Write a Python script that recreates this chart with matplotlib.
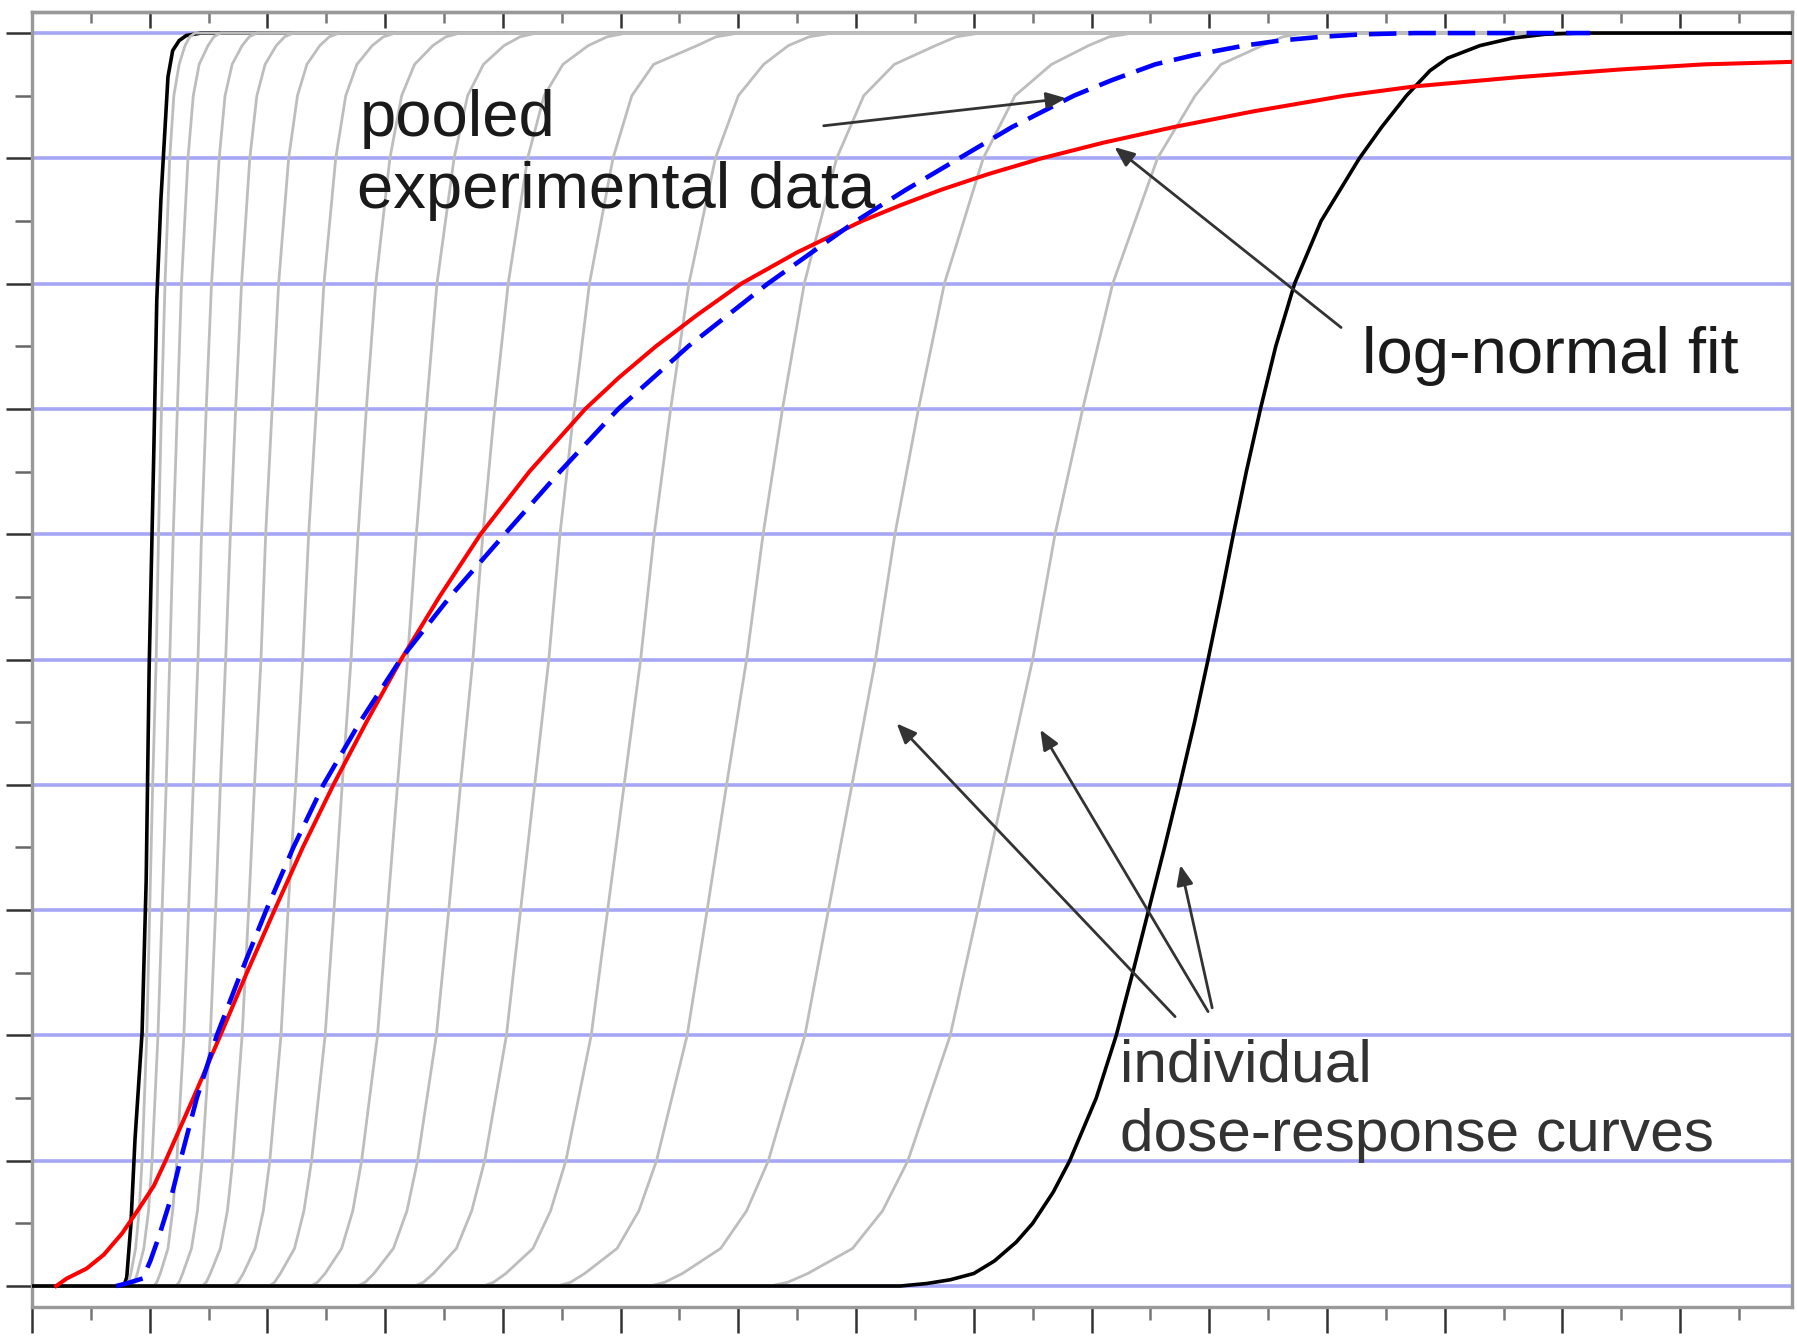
"""
Dose-response sketch: individual curves, pooled data and log-normal fit.
Output: out.png
"""

import matplotlib
matplotlib.use("Agg")
import matplotlib.pyplot as plt
from matplotlib.ticker import MultipleLocator

plt.rcParams["font.family"] = ["Liberation Sans", "DejaVu Sans"]

X_MAX = 29.9

# ── data ─────────────────────────────────────────────────────────────────────

# response levels at which each individual (gray) curve was read
LEVELS = [0, 0.003, 0.01, 0.03, 0.06, 0.1, 0.2, 0.3, 0.4, 0.5,
          0.6, 0.7, 0.8, 0.9, 0.95, 0.975, 0.99, 0.997, 1.0]

# dose of each gray curve at those levels
GRAY_DOSES = [
    [1.61, 1.64, 1.68, 1.76, 1.82, 1.87, 1.95, 2.00, 2.05, 2.11, 2.15, 2.20, 2.26, 2.34, 2.41, 2.50, 2.60, 2.68, 2.77],
    [1.70, 1.74, 1.79, 1.90, 1.98, 2.04, 2.14, 2.21, 2.28, 2.34, 2.40, 2.47, 2.54, 2.65, 2.74, 2.84, 2.99, 3.09, 3.20],
    [2.07, 2.12, 2.18, 2.31, 2.39, 2.46, 2.58, 2.66, 2.74, 2.82, 2.88, 2.96, 3.05, 3.18, 3.28, 3.40, 3.57, 3.69, 3.82],
    [2.44, 2.50, 2.56, 2.71, 2.81, 2.89, 3.03, 3.12, 3.20, 3.29, 3.37, 3.46, 3.56, 3.70, 3.82, 3.96, 4.15, 4.29, 4.44],
    [2.89, 2.96, 3.03, 3.20, 3.32, 3.41, 3.57, 3.68, 3.78, 3.89, 3.97, 4.08, 4.19, 4.36, 4.51, 4.67, 4.89, 5.05, 5.22],
    [3.42, 3.50, 3.59, 3.79, 3.93, 4.04, 4.23, 4.35, 4.48, 4.60, 4.70, 4.83, 4.96, 5.16, 5.33, 5.52, 5.78, 5.97, 6.17],
    [4.03, 4.12, 4.22, 4.46, 4.62, 4.75, 4.98, 5.13, 5.27, 5.42, 5.54, 5.68, 5.84, 6.08, 6.28, 6.50, 6.81, 7.03, 7.27],
    [4.74, 4.85, 4.98, 5.26, 5.45, 5.60, 5.87, 6.04, 6.21, 6.38, 6.53, 6.70, 6.88, 7.17, 7.40, 7.67, 8.02, 8.29, 8.57],
    [5.53, 5.66, 5.81, 6.14, 6.37, 6.55, 6.87, 7.08, 7.28, 7.49, 7.66, 7.86, 8.09, 8.42, 8.70, 9.02, 9.45, 9.77, 10.10],
    [6.50, 6.65, 6.82, 7.21, 7.47, 7.69, 8.06, 8.30, 8.54, 8.78, 8.97, 9.21, 9.47, 9.87, 10.19, 10.56, 11.30, 11.62, 12.00],
    [7.67, 7.84, 8.05, 8.51, 8.81, 9.07, 9.50, 9.78, 10.06, 10.34, 10.57, 10.85, 11.16, 11.61, 12.00, 12.43, 12.85, 13.20, 13.60],
    [8.93, 9.15, 9.39, 9.94, 10.31, 10.61, 11.13, 11.47, 11.80, 12.14, 12.42, 12.75, 13.12, 13.67, 14.13, 14.65, 15.35, 15.70, 16.10],
    [10.50, 10.75, 11.05, 11.70, 12.14, 12.51, 13.13, 13.53, 13.93, 14.33, 14.66, 15.06, 15.50, 16.16, 16.70, 17.32, 17.95, 18.30, 18.70],
    [12.54, 12.84, 13.18, 13.94, 14.45, 14.88, 15.60, 16.07, 16.53, 17.00, 17.38, 17.85, 18.36, 19.12, 19.76, 20.20, 20.90, 21.25, 21.60],
]

# most sensitive individual (black, left)
FIRST_X = [0, 1.56, 1.61, 1.68, 1.75, 1.87, 1.94, 1.99, 2.07, 2.12, 2.19,
           2.26, 2.31, 2.39, 2.50, 2.62, 2.87, X_MAX]
FIRST_Y = [0, 0, 0.007, 0.049, 0.117, 0.202, 0.324, 0.492, 0.667, 0.787, 0.867,
           0.924, 0.965, 0.986, 0.994, 0.998, 1.0, 1.0]

# least sensitive individual (black, right)
LAST_X = [0, 14.75, 15.2, 15.6, 16.0, 16.35, 16.72, 17.0, 17.35, 17.63,
          18.08, 18.42, 18.70, 18.97, 19.24, 19.50, 19.75, 19.98, 20.20, 20.41,
          20.63, 20.87, 21.13, 21.45, 21.90, 22.55, 22.93, 23.35, 23.75, 24.05,
          24.6, 25.15, 25.7, 26.3, X_MAX]
LAST_Y = [0, 0, 0.002, 0.005, 0.01, 0.02, 0.035, 0.05, 0.075, 0.1,
          0.15, 0.2, 0.25, 0.3, 0.35, 0.4, 0.45, 0.5, 0.55, 0.6,
          0.65, 0.7, 0.75, 0.8, 0.85, 0.9, 0.925, 0.95, 0.97, 0.98,
          0.99, 0.996, 0.999, 1.0, 1.0]

# log-normal fit (red)
FIT_X = [0.41, 0.59, 0.93, 1.22, 1.53, 1.82, 2.07, 2.27, 2.74, 3.20,
         3.65, 4.12, 4.60, 5.12, 5.68, 6.27, 6.92, 7.62, 8.45, 9.40,
         9.97, 10.60, 11.30, 12.05, 13.0, 14.1, 14.75, 15.45, 16.25, 17.15,
         18.2, 19.4, 20.75, 22.3, 23.5, 25.3, 27.0, 28.4, 29.9]
FIT_Y = [0, 0.006, 0.014, 0.025, 0.042, 0.062, 0.08, 0.1, 0.15, 0.2,
         0.25, 0.3, 0.35, 0.4, 0.45, 0.5, 0.55, 0.6, 0.65, 0.7,
         0.725, 0.75, 0.775, 0.8, 0.825, 0.85, 0.8625, 0.875, 0.8875, 0.9,
         0.9125, 0.925, 0.9375, 0.95, 0.9575, 0.965, 0.971, 0.975, 0.977]

# pooled experimental data (blue dashed)
POOL_X = [1.43, 1.60, 1.88, 2.01, 2.16, 2.36, 2.52, 2.80, 3.14, 3.55,
          3.98, 4.44, 4.95, 5.57, 6.26, 7.10, 8.03, 8.97, 9.96, 11.15,
          12.50, 14.0, 14.85, 15.75, 16.65, 17.7, 18.35, 19.08, 19.75, 20.6,
          21.2, 21.9, 22.6, 23.5, 26.47]
POOL_Y = [0, 0.002, 0.006, 0.02, 0.04, 0.07, 0.1, 0.15, 0.2, 0.25,
          0.3, 0.35, 0.4, 0.45, 0.5, 0.55, 0.6, 0.65, 0.7, 0.75,
          0.8, 0.85, 0.875, 0.9, 0.925, 0.95, 0.9625, 0.975, 0.9825, 0.99,
          0.994, 0.997, 0.999, 1.0, 1.0]

# ── figure ───────────────────────────────────────────────────────────────────

fig = plt.figure(figsize=(17.97, 13.40), dpi=100)
ax = fig.add_axes([0.0178, 0.02485, 0.97941, 0.96619])
ax.set_xlim(0, X_MAX)
ax.set_ylim(-0.0165, 1.0168)

ax.xaxis.set_major_locator(MultipleLocator(2))
ax.xaxis.set_minor_locator(MultipleLocator(1))
ax.yaxis.set_major_locator(MultipleLocator(0.1))
ax.yaxis.set_minor_locator(MultipleLocator(0.05))
ax.tick_params(which="both", labelbottom=False, labelleft=False,
               top=False, right=False, width=1.8)
ax.tick_params(axis="x", which="major", direction="out", length=18.5, color="#333")
ax.tick_params(axis="x", which="minor", direction="out", length=9.5, color="#777")
ax.tick_params(axis="y", which="major", direction="out", length=18.5, color="#333")
ax.tick_params(axis="y", which="minor", direction="out", length=12, color="#666")

top = ax.secondary_xaxis("top")
top.xaxis.set_major_locator(MultipleLocator(2))
top.xaxis.set_minor_locator(MultipleLocator(1))
top.tick_params(which="both", direction="in", labeltop=False, width=1.8)
top.tick_params(which="major", length=11.5, color="#333")
top.tick_params(which="minor", length=8, color="#777")
top.spines["top"].set_color("#999")
top.spines["top"].set_linewidth(2.4)

for side in ax.spines.values():
    side.set_color("#999")
    side.set_linewidth(2.4)

ax.grid(axis="y", which="major", color="#a6a6f6", linewidth=2.6)
ax.set_axisbelow(True)

# individual curves
ax.plot(FIRST_X, FIRST_Y, color="black", lw=2.6, zorder=2)
for doses in GRAY_DOSES:
    ax.plot([0] + doses + [X_MAX], [0] + LEVELS + [1], color="#bdbdbd",
            lw=2.0, zorder=2, solid_joinstyle="round")
ax.plot(LAST_X, LAST_Y, color="black", lw=2.6, zorder=3,
        solid_joinstyle="round")

ax.plot(FIT_X, FIT_Y, color="#ff0000", lw=2.9, zorder=4, solid_joinstyle="round")
ax.plot(POOL_X, POOL_Y, color="#0000ff", lw=3.3, dashes=(6, 2.6), zorder=5)

# labels
txt = dict(ha="left", va="baseline", zorder=6)
ax.text(5.57, 0.918, "pooled", fontsize=47, color="#1a1a1a", **txt)
ax.text(5.52, 0.860, "experimental data", fontsize=47, color="#1a1a1a", **txt)
ax.text(22.60, 0.729, "log-normal fit", fontsize=47, color="#1a1a1a", **txt)
ax.text(18.49, 0.163, "individual", fontsize=43.5, color="#333", **txt)
ax.text(18.49, 0.108, "dose-response curves", fontsize=43.5, color="#333", **txt)

arrow = dict(arrowstyle="-|>,head_length=0.6,head_width=0.25", color="#333",
             lw=2.0, shrinkA=0, shrinkB=0, mutation_scale=20)
for tail, tip in [((13.45, 0.926), (17.57, 0.948)),
                  ((22.24, 0.765), (18.39, 0.909)),
                  ((19.42, 0.215), (14.69, 0.449)),
                  ((19.98, 0.219), (17.13, 0.444)),
                  ((20.05, 0.222), (19.51, 0.336))]:
    ax.annotate("", xy=tip, xytext=tail, arrowprops=arrow, zorder=6)

fig.savefig("out.png", dpi=100)
plt.close(fig)
